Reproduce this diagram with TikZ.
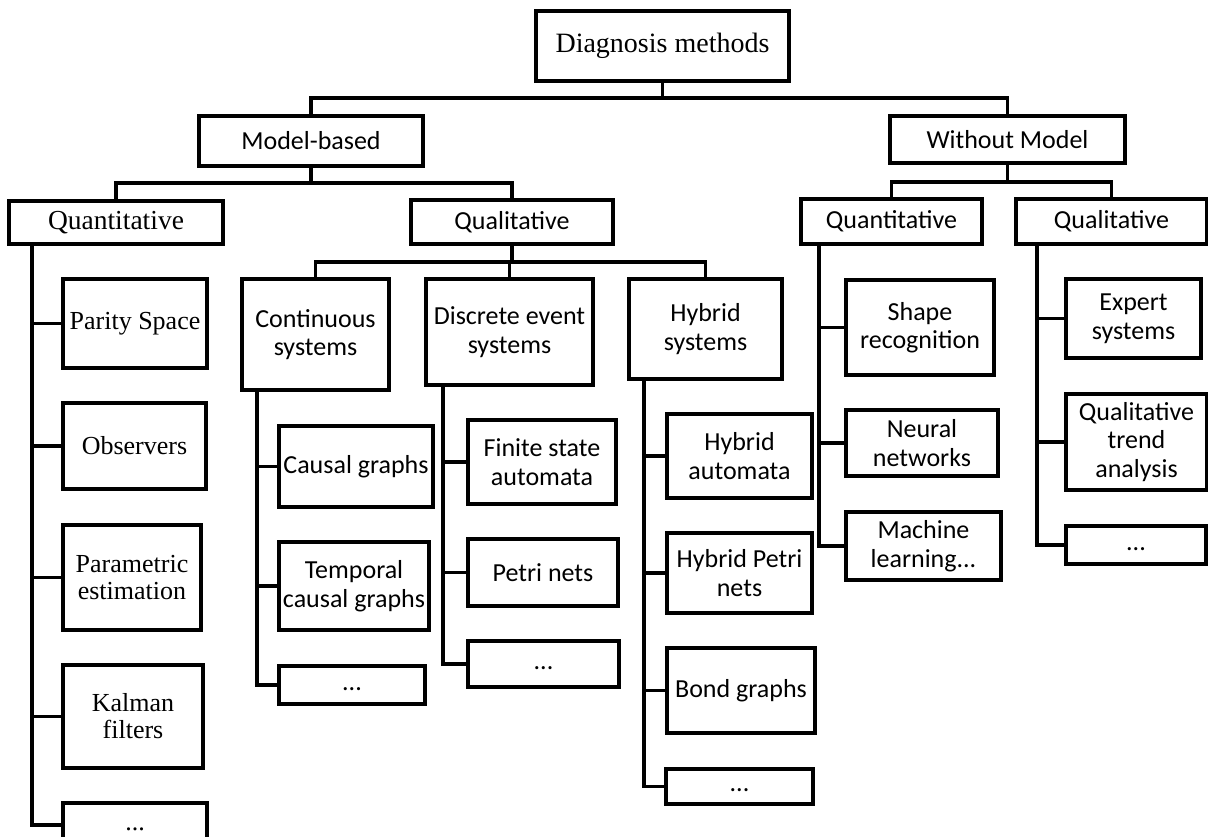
\documentclass[tikz,border=0pt]{standalone}
\usepackage{fontspec}
\setmainfont{Liberation Serif}
\newfontfamily\calibri{Carlito}

\tikzset{
  box/.style={draw, inner sep=0pt, align=center},
  sz/.style 2 args={minimum width=#1pt, minimum height=#2pt},
  rmtxt/.style={font=\fontsize{26}{27}\selectfont},
  sftxt/.style={font=\calibri\fontsize{26}{28.5}\selectfont},
  dots/.style={text height=18pt, text depth=8pt}
}

\begin{document}
\begin{tikzpicture}[x=1pt,y=-1pt,line width=3.1pt]
    \useasboundingbox (0,0) rectangle (1208,836);

    % top levels
    \node[box,sz={253}{70},font=\fontsize{28}{30}\selectfont] (root) at (662.5,46) {Diagnosis methods};
    \node[box,sftxt,sz={224}{50}] (mb) at (311,141) {Model-based};
    \node[box,sftxt,sz={235}{47}] (wm) at (1007.5,139.5) {Without Model};
    \node[box,sz={214}{43},font=\fontsize{27.5}{29}\selectfont] (quanL) at (116,222.5) {Quantitative};
    \node[box,sftxt,sz={202}{44}] (qualL) at (512,222) {Qualitative};
    \node[box,sftxt,sz={181}{45}] (quanR) at (891.5,221.5) {Quantitative};
    \node[box,sftxt,sz={191}{45}] (qualR) at (1111.5,221.5) {Qualitative};

    % model-based, quantitative
    \node[box,rmtxt,sz={144}{89}] (ps) at (135,323.5) {Parity Space};
    \node[box,rmtxt,sz={143}{86}] (obs) at (134.5,446) {Observers};
    \node[box,rmtxt,sz={138}{105}] (pe) at (132,577.5) {Parametric\\estimation};
    \node[box,rmtxt,sz={140}{103}] (kf) at (133,716.5) {Kalman\\filters};
    \node[box,rmtxt,dots,sz={144}{44}] (dotsA) at (135,825) {...};

    % model-based, qualitative
    \node[box,sftxt,sz={147}{111}] (cont) at (315.5,334.5) {Continuous\\systems};
    \node[box,sftxt,sz={167}{106}] (disc) at (509.5,332) {Discrete event\\systems};
    \node[box,sftxt,sz={153}{100}] (hyb) at (705.5,329) {Hybrid\\systems};

    \node[box,sftxt,sz={154}{81}] (cg) at (356,466.5) {Causal graphs};
    \node[box,sftxt,sz={150}{88}] (tcg) at (354,586) {Temporal\\causal graphs};
    \node[box,sftxt,dots,sz={146}{38}] (contDots) at (352,685) {...};

    \node[box,sftxt,sz={148}{84}] (fsa) at (542,462) {Finite state\\automata};
    \node[box,sftxt,sz={150}{67}] (pn) at (543,572.5) {Petri nets};
    \node[box,sftxt,dots,sz={151}{46}] (discDots) at (543.5,664) {...};

    \node[box,sftxt,sz={145}{84}] (ha) at (739.5,456) {Hybrid\\automata};
    \node[box,sftxt,sz={145}{80}] (hpn) at (739.5,573) {Hybrid Petri\\nets};
    \node[box,sftxt,sz={148}{85}] (bg) at (741,690.5) {Bond graphs};
    \node[box,sftxt,dots,sz={147}{35}] (hybDots) at (739.5,786.5) {...};

    % without model
    \node[box,sftxt,sz={148}{95}] (sr) at (920,327.5) {Shape\\recognition};
    \node[box,sftxt,sz={152}{66}] (nn) at (922,443) {Neural\\networks};
    \node[box,sftxt,sz={155}{68}] (ml) at (923.5,546) {Machine\\learning...};

    \node[box,sftxt,sz={135}{79}] (es) at (1133.5,318.5) {Expert\\systems};
    \node[box,sftxt,sz={141}{96}] (qta) at (1136.5,442) {Qualitative\\trend\\analysis};
    \node[box,sftxt,dots,sz={140}{38}] (qualRDots) at (1136,545) {...};

    % buses
    \coordinate (bus1) at (0,98);
    \coordinate (bus2) at (0,183);
    \coordinate (bus3) at (0,182);
    \coordinate (bus4) at (0,262);
    \draw (root.south) -- (root.south |- bus1) -| (mb.north);
    \draw (root.south |- bus1) -| (wm.north);
    \draw (mb.south) -- (mb.south |- bus2) -| (quanL.north);
    \draw (mb.south |- bus2) -| (qualL.north);
    \draw (wm.south) -- (wm.south |- bus3) -| (quanR.north);
    \draw (wm.south |- bus3) -| (qualR.north);
    \draw (qualL.south) -- (qualL.south |- bus4) -| (cont.north);
    \draw (qualL.south |- bus4) -| (disc.north);
    \draw (qualL.south |- bus4) -| (hyb.north);

    % spines
    \coordinate (spA) at (32,0);
    \coordinate (spC) at (257,0);
    \coordinate (spD) at (443,0);
    \coordinate (spH) at (644,0);
    \coordinate (spQ) at (819,0);
    \coordinate (spR) at (1037,0);
    \foreach \c in {ps,obs,pe,kf,dotsA}
        \draw (spA |- quanL.south) |- (\c.west);
    \foreach \c in {cg,tcg,contDots}
        \draw (spC |- cont.south) |- (\c.west);
    \foreach \c in {fsa,pn,discDots}
        \draw (spD |- disc.south) |- (\c.west);
    \foreach \c in {ha,hpn,bg,hybDots}
        \draw (spH |- hyb.south) |- (\c.west);
    \foreach \c in {sr,nn,ml}
        \draw (spQ |- quanR.south) |- (\c.west);
    \foreach \c in {es,qta,qualRDots}
        \draw (spR |- qualR.south) |- (\c.west);
\end{tikzpicture}
\end{document}
